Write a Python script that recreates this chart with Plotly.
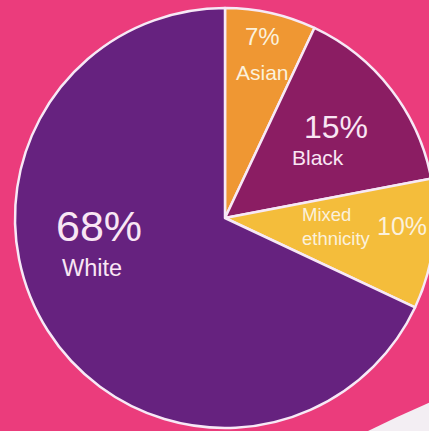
import plotly.graph_objects as go

# Ethnic make-up, share of total (%)
groups = ["Asian", "Black", "Mixed ethnicity", "White"]
shares = [7, 15, 10, 68]
slice_colors = ["#EF9733", "#8B1D63", "#F4BD3B", "#66227F"]

# Figure geometry (px)
W, H = 440, 431
ML, MR, MT, MB = 15, 5, 8, 3
PW, PH = W - ML - MR, H - MT - MB


def px(x):
    return (x - ML) / PW


def py(y):
    return 1 - (y - MT) / PH


fig = go.Figure(
    go.Pie(
        labels=groups,
        values=shares,
        sort=False,
        direction="clockwise",
        rotation=0,
        marker=dict(colors=slice_colors, line=dict(color="#F7E9F6", width=2.5)),
        textinfo="none",
        hoverinfo="label+percent",
        showlegend=False,
    )
)

# Label placement per group: (pct x, pct y, pct size, name x, name y, name size, colour, name align)
label_style = {
    "Asian": (262, 37, 24, 262, 72, 21, "#FBF1DC", "center"),
    "Black": (336, 127, 32, 318, 157, 21, "#F9E6F4", "center"),
    "Mixed ethnicity": (402, 226, 25, 336, 226, 18.5, "#FBF1DC", "left"),
    "White": (99, 226, 43, 92, 268, 23.5, "#F9E6F4", "center"),
}

annotations = []
for g, v in zip(groups, shares):
    pxx, pyy, psz, nx, ny, nsz, col, al = label_style[g]
    annotations.append(dict(
        x=px(pxx), y=py(pyy), xref="paper", yref="paper",
        text=f"{v}%", showarrow=False, xanchor="center", yanchor="middle",
        font=dict(family="Liberation Sans, Arial, sans-serif", size=psz, color=col),
    ))
    annotations.append(dict(
        x=px(nx), y=py(ny), xref="paper", yref="paper",
        text=g.replace(" ", "<br>"), showarrow=False, xanchor="center", yanchor="middle",
        align=al,
        font=dict(family="Liberation Sans, Arial, sans-serif", size=nsz, color=col),
    ))

# Pale sweep along the lower right corner of the backdrop
shapes = [dict(
    type="path", xref="paper", yref="paper", layer="below",
    path=(f"M {px(368)} {py(431)} Q {px(402)} {py(414)} {px(440)} {py(398)} "
          f"L {px(440)} {py(431)} Z"),
    fillcolor="#F3EEF3", line=dict(width=0),
)]

fig.update_layout(
    width=W, height=H,
    margin=dict(l=ML, r=MR, t=MT, b=MB, pad=0),
    paper_bgcolor="#EB3C7C",
    plot_bgcolor="#EB3C7C",
    annotations=annotations,
    shapes=shapes,
)

fig.write_html(
    "out.html",
    post_script="document.body.style.margin='0';document.body.style.overflow='hidden';",
)
